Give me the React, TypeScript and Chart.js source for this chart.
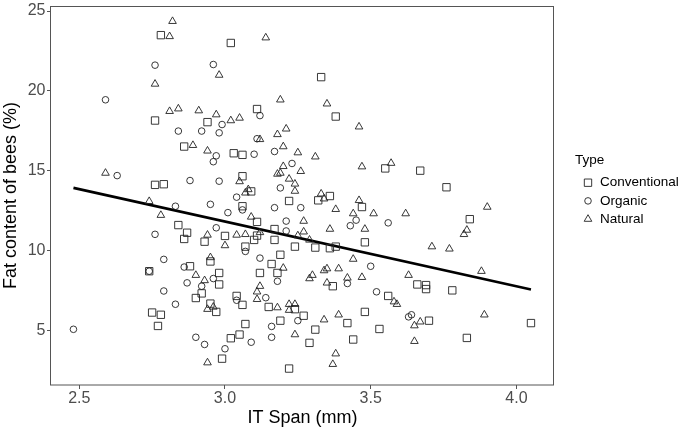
import React, { useEffect, useRef } from 'react';
import { Chart, registerables } from 'chart.js';

Chart.register(...registerables);

// ---------- Data ----------
const seriesNames = ['Conventional', 'Organic', 'Natural'];
const legendTitle = 'Type';
const xTitle = 'IT Span (mm)';
const yTitle = 'Fat content of bees (%)';
const xTicks = [2.5, 3.0, 3.5, 4.0];
const yTicks = [5, 10, 15, 20, 25];

const conventionalX = [2.78, 2.76, 2.86, 3.02, 3.33, 3.11, 3.38, 2.94, 3.03, 3.06, 3.55, 3.67, 2.76, 2.79, 2.84, 2.87, 2.86, 2.74, 2.88, 2.90, 2.92, 2.75, 2.78, 2.77, 3.06, 3.09, 3.06, 3.22, 3.32, 3.36, 3.47, 2.93, 3.00, 3.07, 3.11, 3.11, 3.10, 3.17, 3.17, 3.24, 3.31, 3.36, 3.38, 3.48, 3.19, 3.16, 3.18, 3.12, 3.37, 2.98, 2.98, 2.95, 3.04, 3.06, 2.95, 2.97, 3.15, 3.24, 3.27, 3.19, 3.07, 3.05, 3.02, 3.31, 3.42, 3.48, 3.44, 3.29, 2.99, 3.22, 3.76, 3.84, 3.66, 3.69, 3.69, 3.78, 3.56, 3.70, 4.05, 3.53, 3.83];
const conventionalY = [23.49, 18.14, 16.51, 23.00, 20.86, 18.86, 18.39, 18.04, 16.09, 15.99, 15.14, 15.00, 14.11, 14.15, 11.59, 11.11, 10.72, 8.70, 9.01, 7.02, 7.31, 6.11, 5.97, 5.27, 14.65, 13.70, 12.77, 13.10, 13.14, 13.41, 12.72, 10.55, 10.91, 10.24, 11.79, 10.93, 10.66, 11.34, 10.66, 10.24, 10.18, 10.14, 10.24, 10.51, 9.73, 9.15, 8.59, 8.59, 7.76, 8.59, 7.87, 9.31, 7.15, 6.59, 6.67, 6.15, 6.46, 6.32, 5.91, 5.60, 5.39, 4.73, 4.50, 5.04, 5.45, 6.15, 4.42, 4.21, 3.22, 2.60, 13.96, 11.96, 7.87, 7.83, 7.58, 7.50, 7.15, 5.60, 5.45, 5.08, 4.52];

const organicX = [2.76, 2.59, 2.84, 2.92, 2.63, 2.96, 3.12, 2.99, 2.98, 3.11, 2.97, 2.96, 3.10, 3.17, 3.23, 2.88, 2.83, 2.76, 2.79, 2.74, 2.86, 2.87, 2.92, 2.79, 2.83, 2.48, 2.98, 3.19, 3.04, 2.95, 3.06, 3.01, 3.17, 3.26, 3.45, 3.43, 2.97, 3.07, 3.21, 3.21, 3.12, 3.50, 3.18, 3.42, 2.96, 3.14, 3.04, 3.25, 3.16, 3.09, 3.16, 2.93, 3.00, 2.90, 3.56, 3.52, 3.63, 3.64];
const organicY = [21.61, 19.44, 17.48, 17.48, 14.69, 21.65, 18.45, 17.89, 17.37, 17.00, 15.93, 15.56, 16.03, 16.20, 15.45, 14.38, 12.77, 11.01, 9.44, 8.70, 8.96, 7.97, 7.76, 7.46, 6.63, 5.06, 14.34, 13.92, 13.34, 12.89, 12.54, 12.37, 12.68, 12.68, 11.90, 11.55, 11.42, 9.94, 11.84, 11.22, 9.52, 9.01, 8.07, 7.93, 8.24, 7.04, 6.88, 5.60, 5.24, 4.25, 4.56, 4.11, 3.84, 4.56, 11.73, 7.41, 5.84, 5.97];

const naturalX = [2.82, 2.81, 2.76, 2.81, 2.84, 2.91, 2.89, 2.59, 3.14, 2.98, 3.19, 3.35, 3.46, 2.97, 3.02, 3.05, 3.21, 3.18, 3.12, 2.94, 3.20, 3.25, 3.31, 3.20, 3.26, 3.47, 3.18, 3.19, 3.57, 2.74, 2.78, 2.90, 3.05, 3.22, 3.24, 3.08, 3.07, 3.24, 3.33, 3.34, 3.38, 3.46, 3.44, 3.48, 2.94, 3.00, 3.04, 3.07, 3.09, 3.12, 3.27, 3.27, 3.25, 3.29, 3.36, 3.44, 3.20, 3.30, 3.29, 3.34, 3.35, 3.39, 3.42, 3.47, 3.35, 2.93, 2.95, 3.12, 3.11, 3.11, 2.94, 2.96, 3.18, 3.22, 3.22, 3.24, 3.24, 3.34, 3.39, 2.94, 3.38, 3.37, 3.90, 3.51, 3.62, 3.83, 3.82, 3.71, 3.77, 3.88, 3.63, 3.58, 3.59, 3.65, 3.67, 3.89, 3.65];
const naturalY = [24.36, 23.41, 20.43, 18.72, 18.88, 18.76, 16.59, 14.85, 23.33, 20.99, 19.44, 19.19, 17.75, 18.51, 18.14, 18.30, 17.62, 17.27, 16.96, 16.24, 16.51, 16.13, 15.87, 15.27, 14.96, 15.25, 14.79, 14.85, 15.47, 13.08, 12.21, 8.45, 14.32, 14.48, 14.17, 13.82, 13.61, 13.72, 13.55, 13.24, 12.58, 13.14, 12.31, 11.34, 10.97, 10.31, 10.97, 11.01, 12.10, 11.13, 11.84, 11.17, 10.93, 10.66, 11.34, 9.46, 8.90, 8.45, 8.24, 8.74, 8.86, 8.86, 8.28, 8.32, 7.97, 8.12, 9.56, 7.76, 7.41, 6.94, 6.32, 6.46, 6.42, 6.63, 6.26, 6.63, 4.73, 5.66, 5.97, 2.97, 3.53, 2.87, 12.72, 12.31, 12.31, 11.28, 11.01, 10.24, 10.10, 8.70, 8.45, 6.79, 6.63, 5.29, 5.53, 5.97, 4.31];

const regressionX = [2.48, 4.05];
const regressionY = [13.92, 7.56];

// ---------- Styling ----------
const FONT = "'Liberation Sans', Arial, Helvetica, sans-serif";
const MARK = '#222222';
const AXIS = '#555555';
const TICK_TEXT = '#4d4d4d';
const markerStyles = ['rect', 'circle', 'triangle'];
const markerRadii = [5.2, 3.3, 4.4];

function drawMarker(ctx: CanvasRenderingContext2D, style: string, x: number, y: number, r: number) {
  ctx.beginPath();
  if (style === 'rect') {
    const s = r * Math.SQRT1_2;
    ctx.rect(x - s, y - s, 2 * s, 2 * s);
  } else if (style === 'circle') {
    ctx.arc(x, y, r, 0, Math.PI * 2);
  } else {
    let rad = 0;
    ctx.moveTo(x + Math.sin(rad) * r, y - Math.cos(rad) * r);
    rad += (2 * Math.PI) / 3;
    ctx.lineTo(x + Math.sin(rad) * r, y - Math.cos(rad) * r);
    rad += (2 * Math.PI) / 3;
    ctx.lineTo(x + Math.sin(rad) * r, y - Math.cos(rad) * r);
    ctx.closePath();
  }
  ctx.stroke();
}

export default function App() {
  const ref = useRef<HTMLCanvasElement>(null);

  useEffect(() => {
    const canvas = ref.current;
    if (!canvas) return;
    const pts = (xs: number[], ys: number[]) => xs.map((x, i) => ({ x, y: ys[i] }));

    const panelPlugin = {
      id: 'panelAndLegend',
      afterDatasetsDraw(chart: any) {
        const { ctx, chartArea } = chart;
        const { left, top, right, bottom } = chartArea;
        ctx.save();
        ctx.strokeStyle = AXIS;
        ctx.lineWidth = 1;
        ctx.strokeRect(Math.round(left) - 0.5, Math.round(top) + 0.5, Math.round(right - left), Math.round(bottom - top) - 0.5);
        ctx.restore();
      },
      afterDraw(chart: any) {
        const ctx: CanvasRenderingContext2D = chart.ctx;
        ctx.save();
        ctx.textBaseline = 'middle';
        ctx.textAlign = 'left';
        ctx.fillStyle = '#000';
        ctx.font = `13.5px ${FONT}`;
        ctx.fillText(legendTitle, 575, 160.5);
        seriesNames.forEach((name, i) => {
          const cy = 182.7 + i * 18.2;
          ctx.strokeStyle = MARK;
          ctx.lineWidth = 0.9;
          drawMarker(ctx, markerStyles[i], 588, cy, markerRadii[i]);
          ctx.fillStyle = '#000';
          ctx.fillText(name, 600, cy);
        });
        ctx.restore();
      },
    };

    const mk = (label: string, xs: number[], ys: number[], i: number) => ({
      type: 'scatter' as const,
      label,
      data: pts(xs, ys),
      pointStyle: markerStyles[i],
      pointRadius: markerRadii[i],
      pointBorderColor: MARK,
      pointBackgroundColor: 'rgba(0,0,0,0)',
      pointBorderWidth: 0.9,
      showLine: false,
    });

    const chart = new Chart(canvas, {
      type: 'scatter',
      data: {
        datasets: [
          mk(seriesNames[0], conventionalX, conventionalY, 0),
          mk(seriesNames[1], organicX, organicY, 1),
          mk(seriesNames[2], naturalX, naturalY, 2),
          {
            type: 'line' as const,
            label: 'fit',
            data: pts(regressionX, regressionY),
            borderColor: '#000',
            borderWidth: 2.6,
            pointRadius: 0,
            fill: false,
            tension: 0,
          } as any,
        ],
      },
      options: {
        responsive: false,
        animation: false,
        events: [],
        layout: { padding: { top: 2, right: 131, left: 0, bottom: 0 } },
        plugins: { legend: { display: false }, tooltip: { enabled: false } },
        scales: {
          x: {
            type: 'linear',
            min: 2.403,
            max: 4.129,
            afterBuildTicks: (s: any) => { s.ticks = xTicks.map((v) => ({ value: v })); },
            afterFit: (s: any) => { s.height = 45; s.paddingLeft = 0; s.paddingRight = 0; },
            ticks: {
              callback: (v: any) => Number(v).toFixed(1),
              font: { family: FONT, size: 16 },
              color: TICK_TEXT,
              padding: 0,
              maxRotation: 0,
              autoSkip: false,
            },
            grid: { display: true, drawOnChartArea: false, drawTicks: true, tickLength: 4, color: AXIS, lineWidth: 1 },
            border: { display: false },
            title: { display: true, text: xTitle, font: { family: FONT, size: 18 }, color: '#000', padding: { top: 0, bottom: 1 } },
          },
          y: {
            type: 'linear',
            min: 1.57,
            max: 25.31,
            afterBuildTicks: (s: any) => { s.ticks = yTicks.map((v) => ({ value: v })); },
            afterFit: (s: any) => { s.width = 51; s.paddingTop = 0; s.paddingBottom = 0; },
            ticks: {
              callback: (v: any) => String(v),
              font: { family: FONT, size: 16 },
              color: TICK_TEXT,
              padding: 1.5,
              autoSkip: false,
            },
            grid: { display: true, drawOnChartArea: false, drawTicks: true, tickLength: 4, color: AXIS, lineWidth: 1 },
            border: { display: false },
            title: { display: true, text: yTitle, font: { family: FONT, size: 18 }, color: '#000', padding: { top: 0, bottom: 0 } },
          },
        },
      } as any,
      plugins: [panelPlugin],
    });

    return () => chart.destroy();
  }, []);

  return (
    <div style={{ position: 'absolute', left: 0, top: 0, width: 685, height: 430, background: '#fff' }}>
      <canvas ref={ref} width={685} height={430} style={{ display: 'block', width: 685, height: 430 }} />
    </div>
  );
}
